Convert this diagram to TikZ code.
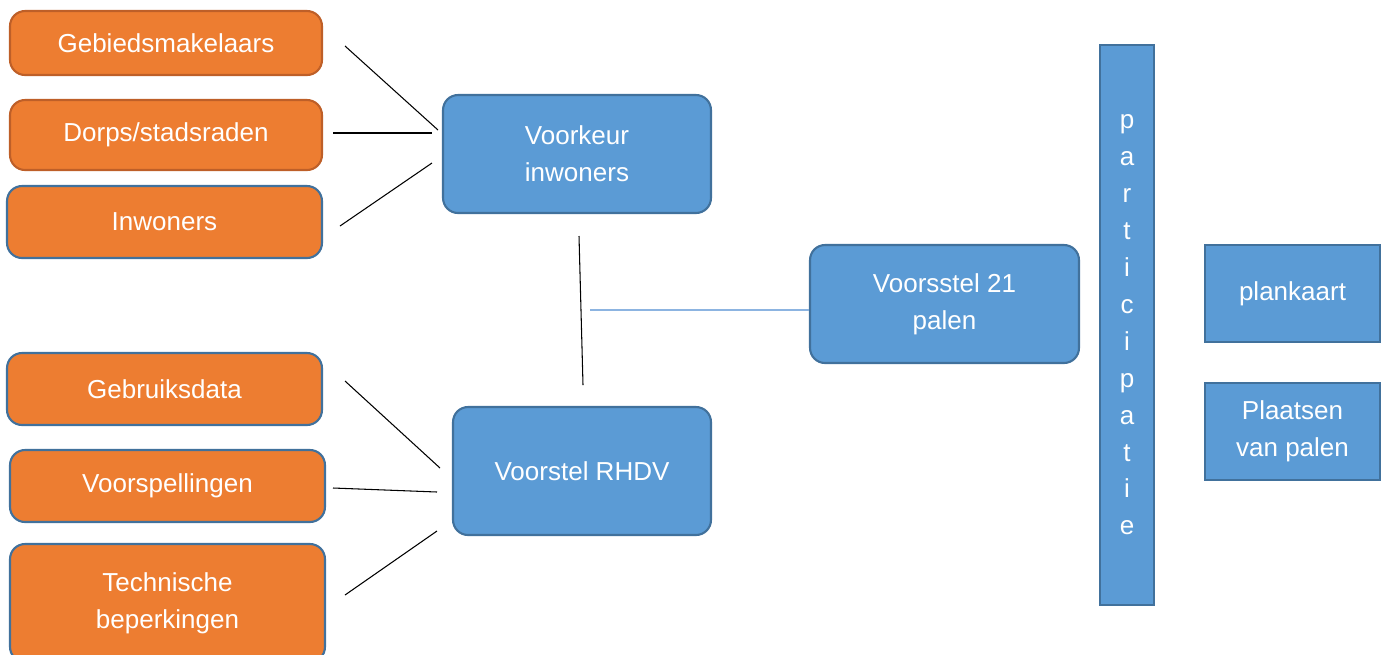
\documentclass[tikz,border=0pt]{standalone}
\usepackage{fontspec}
\setmainfont{Liberation Sans}
\usepackage{xcolor}
\usetikzlibrary{positioning}
\definecolor{boxorange}{RGB}{237,125,49}
\definecolor{edgeorange}{RGB}{190,95,40}
\definecolor{boxblue}{RGB}{91,155,213}
\definecolor{edgeblue}{RGB}{65,113,156}
\definecolor{lineblue}{RGB}{140,180,225}

\begin{document}
\begin{tikzpicture}[x=0.02cm, y=-0.02cm, every node/.style={font=\fontsize{14.8}{21}\selectfont, text=white, align=center}]
  \tikzset{
      orangebox/.style={draw=edgeblue, fill=boxorange, line width=1.2pt, rounded corners=0.3cm, inner sep=0pt},
      bluebox/.style={draw=edgeblue, fill=boxblue, line width=1.2pt, rounded corners=0.3cm, inner sep=0pt},
      flatbox/.style={draw=edgeblue, fill=boxblue, line width=1.2pt, inner sep=0pt},
      link/.style={draw=black, line width=0.6pt},
      softlink/.style={draw=lineblue, line width=1pt}
  }
  \useasboundingbox (0,0) rectangle (1382,654);

  % input boxes
  \node[orangebox, draw=edgeorange, minimum width=6.24cm, minimum height=1.28cm] (gebied) at (166,43)  {Gebiedsmakelaars};
  \node[orangebox, draw=edgeorange, minimum width=6.24cm, minimum height=1.4cm]  (dorps)  at (166,135) {Dorps/stadsraden};
  \node[orangebox, minimum width=6.3cm, minimum height=1.44cm] (inwoners) at (164.5,222) {Inwoners};
  \node[orangebox, minimum width=6.3cm, minimum height=1.44cm] (gebruik)  at (164.5,389) {Gebruiksdata};
  \node[orangebox, minimum width=6.3cm, minimum height=1.44cm] (voorspel) at (167.5,486) {Voorspellingen};
  \node[orangebox, minimum width=6.3cm, minimum height=2.36cm] (techniek) at (167.5,603) {Technische\\beperkingen};

  % middle boxes
  \node[bluebox, minimum width=5.36cm, minimum height=2.36cm] (voorkeur) at (577,154)   {Voorkeur\\inwoners};
  \node[bluebox, minimum width=5.16cm, minimum height=2.56cm] (rhdv)     at (582,471)   {Voorstel RHDV};
  \node[bluebox, minimum width=5.38cm, minimum height=2.36cm] (palen)    at (944.5,304) {Voorsstel 21\\palen};

  % right column
  \node[flatbox, minimum width=1.08cm, minimum height=11.2cm] (partic) at (1127,325) {p\\a\\r\\t\\i\\c\\i\\p\\a\\t\\i\\e};
  \node[flatbox, minimum width=3.5cm, minimum height=1.94cm] (kaart)   at (1292.5,293.5) {plankaart};
  \node[flatbox, minimum width=3.5cm, minimum height=1.94cm] (plaatsen) at (1292.5,431.5) {Plaatsen\\van palen};

  % free ends of the connectors
  \coordinate (g1) at (345,46);  \coordinate (g2) at (438,130);
  \coordinate (d1) at (333,133); \coordinate (d2) at (432,133);
  \coordinate (i1) at (340,226); \coordinate (i2) at (432,163);
  \coordinate (b1) at (345,381); \coordinate (b2) at (440,468);
  \coordinate (v1) at (333,488); \coordinate (v2) at (437,492);
  \coordinate (t1) at (345,595); \coordinate (t2) at (437,531);
  \coordinate (m1) at (579,236); \coordinate (m2) at (583,385);
  \coordinate (m3) at (590,310);

  \draw[link] (g1) -- (g2);
  \draw[link] (d1) -- (d2);
  \draw[link] (i1) -- (i2);
  \draw[link] (b1) -- (b2);
  \draw[link] (v1) -- (v2);
  \draw[link] (t1) -- (t2);
  \draw[link] (m1) -- (m2);
  \draw[softlink] (m3) -- (m3 -| palen.west);
\end{tikzpicture}
\end{document}
